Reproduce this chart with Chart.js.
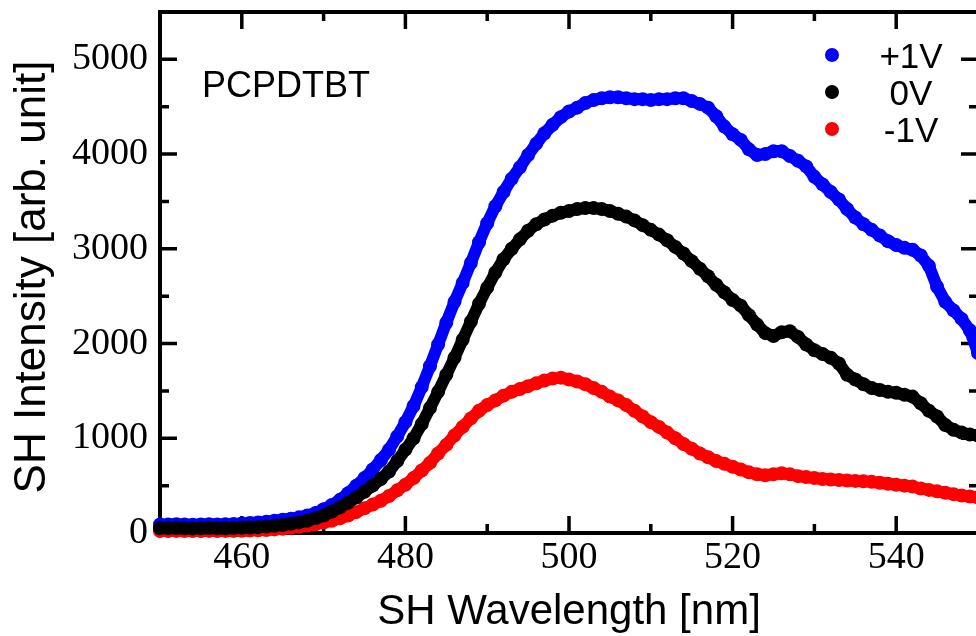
<!DOCTYPE html>
<html lang="en">
<head>
    <meta charset="UTF-8">
    <title>SH Intensity vs SH Wavelength</title>
    <script src="https://cdn.jsdelivr.net/npm/chart.js"></script>
    <style>
        html, body { margin: 0; padding: 0; background: #FFFFFF; overflow: hidden; }
        #wrap { position: absolute; left: 0; top: 0; width: 990px; height: 636px; }
    </style>
</head>
<body>
    <div id="wrap">
        <canvas id="shCanvas" width="990" height="636" style="width:990px;height:636px"></canvas>
    </div>

    <script>
        // wavelength grid [nm]
        const wavelengths = [
            450, 451, 452, 453, 454, 455, 456, 457, 458, 459,
            460, 461, 462, 463, 464, 465, 466, 467, 468, 469,
            470, 471, 472, 473, 474, 475, 476, 477, 478, 479,
            480, 481, 482, 483, 484, 485, 486, 487, 488, 489,
            490, 491, 492, 493, 494, 495, 496, 497, 498, 499,
            500, 501, 502, 503, 504, 505, 506, 507, 508, 509,
            510, 511, 512, 513, 514, 515, 516, 517, 518, 519,
            520, 521, 522, 523, 524, 525, 526, 527, 528, 529,
            530, 531, 532, 533, 534, 535, 536, 537, 538, 539,
            540, 541, 542, 543, 544, 545, 546, 547, 548, 549, 550
        ];
        // +1V
        const plusOneV = [
            90, 90, 92, 90, 88, 90, 92, 90, 92, 95,
            100, 105, 112, 120, 130, 140, 150, 165, 185, 210,
            250, 295, 350, 420, 500, 580, 670, 770, 880, 1020,
            1170, 1340, 1540, 1760, 1990, 2220, 2440, 2640, 2850, 3070,
            3270, 3450, 3600, 3740, 3860, 3990, 4110, 4220, 4310, 4390,
            4450, 4490, 4540, 4570, 4590, 4600, 4600, 4590, 4580, 4580,
            4570, 4580, 4580, 4590, 4590, 4560, 4530, 4490, 4400, 4290,
            4210, 4150, 4050, 3990, 4000, 4030, 4030, 3980, 3930, 3870,
            3760, 3680, 3600, 3520, 3420, 3330, 3260, 3200, 3140, 3080,
            3040, 3010, 2990, 2930, 2820, 2600, 2440, 2350, 2260, 2140, 1900
        ];
        // 0V
        const zeroV = [
            50, 50, 52, 50, 48, 50, 52, 50, 50, 52,
            55, 58, 62, 68, 75, 85, 97, 112, 130, 155,
            185, 225, 270, 320, 375, 435, 500, 570, 650, 760,
            880, 1000, 1150, 1320, 1490, 1670, 1850, 2040, 2230, 2420,
            2590, 2750, 2890, 3000, 3100, 3190, 3260, 3310, 3350, 3380,
            3400, 3420, 3430, 3430, 3420, 3400, 3370, 3340, 3300, 3250,
            3200, 3150, 3090, 3020, 2950, 2870, 2790, 2710, 2620, 2540,
            2460, 2400, 2300, 2200, 2110, 2080, 2120, 2130, 2070, 1990,
            1930, 1890, 1850, 1790, 1670, 1620, 1570, 1530, 1510, 1490,
            1480, 1460, 1440, 1370, 1290, 1230, 1140, 1090, 1060, 1040, 1030
        ];
        // -1V
        const minusOneV = [
            20, 20, 22, 20, 20, 20, 22, 20, 22, 22,
            24, 26, 28, 32, 38, 45, 55, 65, 78, 92,
            110, 130, 155, 185, 220, 260, 300, 340, 390, 450,
            510, 580, 660, 740, 840, 930, 1030, 1120, 1210, 1290,
            1350, 1400, 1450, 1490, 1520, 1550, 1580, 1610, 1630, 1640,
            1620, 1600, 1570, 1530, 1490, 1440, 1400, 1350, 1290, 1230,
            1170, 1120, 1060, 1000, 940, 890, 840, 800, 760, 730,
            700, 670, 640, 620, 610, 620, 630, 620, 600, 590,
            580, 570, 565, 560, 555, 550, 545, 540, 530, 520,
            510, 500, 490, 470, 455, 440, 425, 410, 395, 385, 375
        ];

        const xMajorTicks = [460, 480, 500, 520, 540];
        const xMinorTicks = [470, 490, 510, 530];
        const yMajorTicks = [0, 1000, 2000, 3000, 4000, 5000];
        const yMinorTicks = [500, 1500, 2500, 3500, 4500];

        const seriesLabels = ['+1V', '0V', '-1V'];
        const seriesColors = ['#0000FF', '#000000', '#FF0000'];
        const sampleName = 'PCPDTBT';
        const xTitle = 'SH Wavelength [nm]';
        const yTitle = 'SH Intensity [arb. unit]';

        const toPoints = vals => wavelengths.map((x, i) => ({ x: x, y: vals[i] }));

        // frame with inward ticks on all four sides, titles, inset label, legend
        const framePlugin = {
            id: 'frame',
            beforeDatasetsDraw(chart) {
                const ctx = chart.ctx;
                const a = chart.chartArea;
                const xs = chart.scales.x, ys = chart.scales.y;
                ctx.save();
                ctx.strokeStyle = '#000';
                ctx.lineWidth = 4;
                ctx.strokeRect(a.left, a.top, a.right - a.left, a.bottom - a.top);

                ctx.lineWidth = 3.5;
                ctx.beginPath();
                const tickX = (vals, len) => vals.forEach(v => {
                    const px = xs.getPixelForValue(v);
                    ctx.moveTo(px, a.bottom); ctx.lineTo(px, a.bottom - len);
                    ctx.moveTo(px, a.top); ctx.lineTo(px, a.top + len);
                });
                const tickY = (vals, len) => vals.forEach(v => {
                    const py = ys.getPixelForValue(v);
                    ctx.moveTo(a.left, py); ctx.lineTo(a.left + len, py);
                    ctx.moveTo(a.right, py); ctx.lineTo(a.right - len, py);
                });
                tickX(xMajorTicks, 17);
                tickX(xMinorTicks, 9);
                tickY(yMajorTicks.filter(v => v > 0), 17);
                tickY(yMinorTicks, 9);
                ctx.stroke();

                // axis titles
                ctx.fillStyle = '#000';
                ctx.textAlign = 'center';
                ctx.textBaseline = 'alphabetic';
                ctx.font = '42px "Liberation Sans", Arial, sans-serif';
                ctx.fillText(xTitle, (a.left + a.right) / 2, 624);
                ctx.save();
                ctx.translate(45, 277);
                ctx.rotate(-Math.PI / 2);
                ctx.font = '44px "Liberation Sans", Arial, sans-serif';
                ctx.fillText(yTitle, 0, 0);
                ctx.restore();

                // inset sample name
                ctx.textAlign = 'left';
                ctx.font = '36px "Liberation Sans", Arial, sans-serif';
                ctx.fillText(sampleName, 202, 97);
                ctx.restore();
            },
            afterDatasetsDraw(chart) {
                const ctx = chart.ctx;
                ctx.save();
                ctx.font = '35px "Liberation Sans", Arial, sans-serif';
                ctx.textAlign = 'center';
                ctx.textBaseline = 'alphabetic';
                seriesLabels.forEach((lab, i) => {
                    const cy = 55 + i * 37;
                    ctx.fillStyle = seriesColors[i];
                    ctx.beginPath();
                    ctx.arc(832, cy, 7, 0, Math.PI * 2);
                    ctx.fill();
                    ctx.fillStyle = '#000';
                    ctx.fillText(lab, 911, cy + 13);
                });
                ctx.restore();
            }
        };

        const makeSet = (label, vals, color, order) => ({
            label: label,
            data: toPoints(vals),
            showLine: true,
            borderColor: color,
            backgroundColor: color,
            borderWidth: 12,
            borderJoinStyle: 'round',
            borderCapStyle: 'round',
            pointRadius: 7,
            pointBorderWidth: 0,
            pointBackgroundColor: color,
            tension: 0,
            clip: false,
            order: order
        });

        const ctxSH = document.getElementById('shCanvas').getContext('2d');
        new Chart(ctxSH, {
            type: 'scatter',
            data: {
                datasets: [
                    makeSet(seriesLabels[1], zeroV, seriesColors[1], 0),
                    makeSet(seriesLabels[0], plusOneV, seriesColors[0], 1),
                    makeSet(seriesLabels[2], minusOneV, seriesColors[2], 2)
                ]
            },
            options: {
                responsive: false,
                animation: false,
                layout: { padding: { top: 12, right: 12, left: 0, bottom: 0 } },
                scales: {
                    x: {
                        type: 'linear',
                        min: 450,
                        max: 550,
                        grid: { display: false, drawTicks: false },
                        border: { display: false },
                        afterBuildTicks: s => { s.ticks = xMajorTicks.map(v => ({ value: v })); },
                        afterFit: s => { s.height = 103; s.paddingLeft = 0; s.paddingRight = 0; },
                        ticks: {
                            color: '#000',
                            padding: 2,
                            maxRotation: 0,
                            autoSkip: false,
                            callback: v => String(v),
                            font: { family: '"Liberation Serif", "Times New Roman", serif', size: 38 }
                        }
                    },
                    y: {
                        min: 0,
                        max: 5500,
                        grid: { display: false, drawTicks: false },
                        border: { display: false },
                        afterBuildTicks: s => { s.ticks = yMajorTicks.map(v => ({ value: v })); },
                        afterFit: s => { s.width = 160; s.paddingTop = 0; s.paddingBottom = 0; },
                        ticks: {
                            color: '#000',
                            padding: 12,
                            autoSkip: false,
                            callback: v => String(v),
                            font: { family: '"Liberation Serif", "Times New Roman", serif', size: 38 }
                        }
                    }
                },
                plugins: {
                    legend: { display: false },
                    tooltip: { enabled: false }
                }
            },
            plugins: [framePlugin]
        });
    </script>
</body>
</html>
